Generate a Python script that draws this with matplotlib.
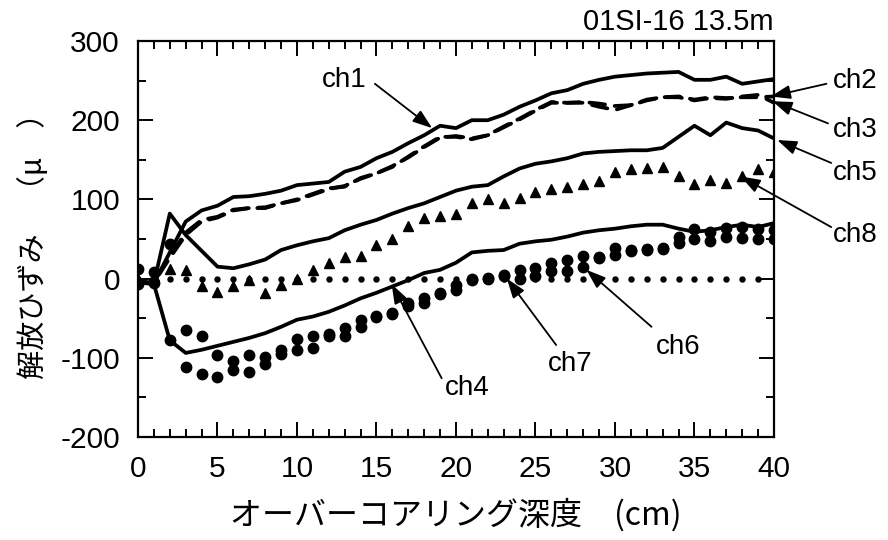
import matplotlib
matplotlib.use("Agg")
import matplotlib.pyplot as plt
from matplotlib.ticker import MultipleLocator

plt.rcParams['font.family'] = ['Liberation Sans', 'Noto Sans CJK JP', 'DejaVu Sans']
plt.rcParams['axes.unicode_minus'] = False

# Overcoring depth (cm)
depth = [0, 1, 2, 3, 4, 5, 6, 7, 8, 9, 10, 11, 12, 13, 14, 15, 16, 17, 18, 19, 20,
         21, 22, 23, 24, 25, 26, 27, 28, 29, 30, 31, 32, 33, 34, 35, 36, 37, 38, 39, 40]

# Released strain per channel (micro strain)
ch1 = [-5, -6, 33, 72, 86, 92, 103, 104, 107, 111, 118, 120, 122, 135, 141, 152, 160, 171, 181, 193, 190,
       200, 200, 207, 217, 225, 234, 238, 246, 251, 255, 257, 259, 260, 261, 251, 251, 255, 246, 249, 252]
ch2 = [-5, -5, 28, 58, 74, 78, 87, 89, 89, 95, 100, 107, 114, 116, 127, 133, 141, 154, 167, 179, 179,
       176, 181, 192, 202, 213, 223, 222, 223, 221, 218, 219, 225, 229, 230, 226, 229, 228, 229, 229, 230]
ch3 = [-5, -5, 26, 55, 72, 77, 86, 89, 90, 95, 99, 106, 113, 117, 126, 133, 142, 153, 166, 178, 180,
       177, 181, 191, 201, 212, 222, 222, 222, 217, 213, 219, 226, 229, 229, 225, 228, 227, 230, 232, 222]
ch4 = [-5, -7, -78, -94, -90, -85, -80, -75, -69, -61, -52, -48, -42, -34, -25, -18, -10, -2, 7, 11, 20,
       33, 35, 36, 44, 47, 49, 53, 58, 61, 63, 66, 68, 68, 63, 59, 61, 65, 68, 65, 70]
ch5 = [-3, -6, 82, 55, 35, 15, 13, 18, 24, 36, 42, 47, 51, 61, 68, 74, 82, 89, 95, 103, 111,
       116, 118, 129, 139, 145, 148, 152, 158, 160, 161, 162, 162, 165, 179, 193, 181, 197, 190, 187, 177]
ch6 = [-7, -6, -78, -112, -120, -125, -116, -118, -108, -95, -90, -88, -72, -73, -61, -48, -45, -35, -31, -19, -14,
       -2, 1, 3, 0, 3, 9, 9, 15, 26, 30, 35, 36, 37, 45, 50, 47, 53, 51, 50, 50]
ch7 = [12, 8, 44, -65, -73, -97, -104, -96, -99, -90, -76, -72, -70, -63, -52, -47, -44, -31, -25, -18, -8,
       -1, 0, 5, 11, 13, 20, 24, 28, 27, 39, 36, 37, 38, 53, 62, 59, 64, 65, 62, 61]
ch8 = [0, 3, 12, 11, -10, -17, -10, -2, -18, -8, -1, 11, 20, 27, 29, 42, 50, 66, 76, 79, 82,
       95, 100, 96, 102, 109, 113, 116, 120, 123, 134, 138, 139, 141, 129, 119, 125, 121, 129, 138, 135]

# Zero reference row
zero_depth = depth[:40]
zero_level = [0] * len(zero_depth)

fig = plt.figure(figsize=(8.88, 5.40), dpi=100)
ax = fig.add_axes([0.1554, 0.191, 0.7162, 0.733])

lw = 2.7
ax.plot(zero_depth, zero_level, linestyle='none', marker='o', ms=3.6, color='black')
ax.plot(depth, ch1, color='black', lw=lw, solid_joinstyle='round')
ax.plot(depth, ch2, color='black', lw=lw, linestyle=(0, (4.2, 2.6)), dash_capstyle='round')
ax.plot(depth, ch3, color='black', lw=lw, linestyle=(0, (4.2, 2.6)), dash_capstyle='round')
ax.plot(depth, ch4, color='black', lw=lw, solid_joinstyle='round')
ax.plot(depth, ch5, color='black', lw=lw, solid_joinstyle='round')
ax.plot(depth, ch6, linestyle='none', marker='o', ms=7.5, color='black')
ax.plot(depth, ch7, linestyle='none', marker='o', ms=7.5, color='black')
ax.plot(depth, ch8, linestyle='none', marker='^', ms=7.5, color='black')

ax.set_xlim(0, 40)
ax.set_ylim(-200, 300)
ax.xaxis.set_major_locator(MultipleLocator(5))
ax.xaxis.set_minor_locator(MultipleLocator(1))
ax.yaxis.set_major_locator(MultipleLocator(100))
ax.yaxis.set_minor_locator(MultipleLocator(50))
ax.tick_params(which='both', direction='in', top=True, right=True, width=1.4,
               labelsize=21.5, pad=13, color='black')
ax.tick_params(which='major', length=11)
ax.tick_params(which='minor', length=5.5)
for s in ax.spines.values():
    s.set_linewidth(1.6)

ax.set_xlabel('オーバーコアリング深度　(cm)', fontsize=23,
              family=['Noto Sans CJK JP', 'Liberation Sans'], labelpad=11)
ax.set_ylabel('解放ひずみ　（μ　）', fontsize=21,
              family=['Noto Sans CJK JP', 'Liberation Sans'], labelpad=8)

ax.text(1.0, 1.012, '01SI-16 13.5m', transform=ax.transAxes, ha='right', va='bottom',
        fontsize=21)

arrow = dict(arrowstyle='-|>,head_length=0.85,head_width=0.3', color='black', lw=1.3,
             shrinkA=0, shrinkB=0, mutation_scale=14)

# (label, label position, arrow tail, arrow tip) in data coordinates
notes = [
    ('ch1', (12.96, 251), (14.9, 246), (18.5, 190)),
    ('ch2', (45.1, 250), (43.3, 246), (39.8, 230)),
    ('ch3', (45.1, 187), (43.4, 196), (39.9, 224)),
    ('ch5', (45.1, 133), (43.6, 146), (40.2, 175)),
    ('ch8', (45.1, 55), (43.6, 65), (37.9, 129)),
    ('ch4', (20.7, -138), (19.1, -126), (15.95, -7)),
    ('ch7', (27.2, -108), (26.3, -84), (23.2, 0)),
    ('ch6', (34.0, -86), (32.3, -61), (28.2, 11)),
]
for label, tpos, tail, tip in notes:
    ax.text(tpos[0], tpos[1], label, fontsize=20, ha='center', va='center', clip_on=False)
    ax.annotate('', xy=tip, xytext=tail, arrowprops=arrow, annotation_clip=False)

fig.savefig('out.png', dpi=100, facecolor='white')
